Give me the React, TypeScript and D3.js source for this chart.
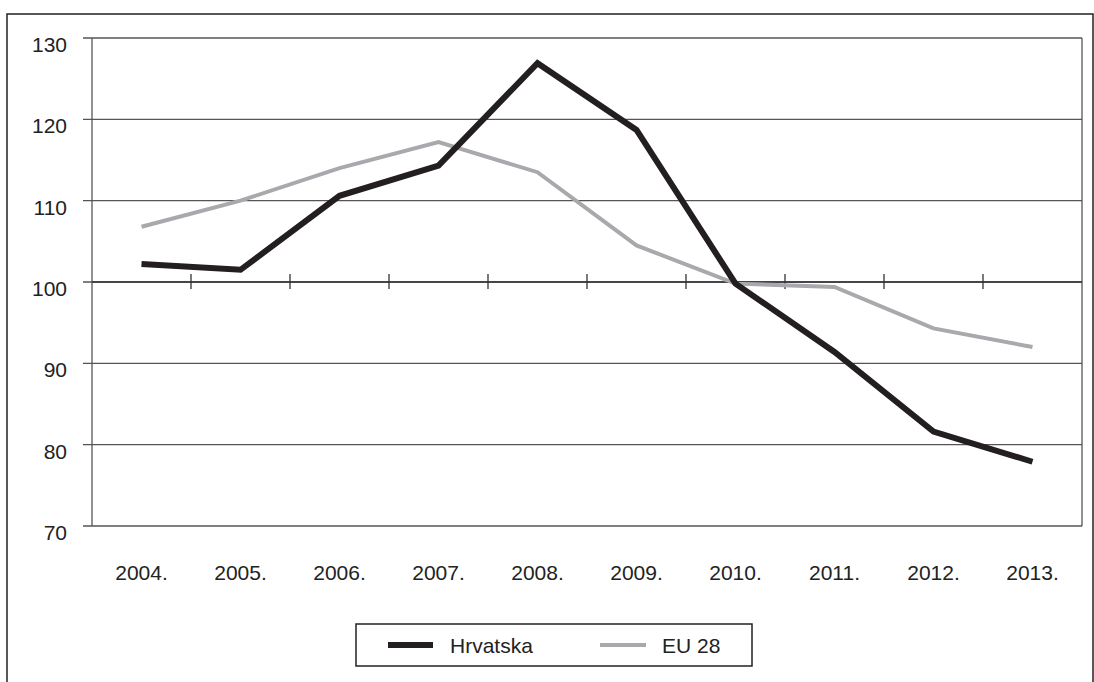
import React from "react";
import * as d3 from "d3";

const years = ["2004.", "2005.", "2006.", "2007.", "2008.", "2009.", "2010.", "2011.", "2012.", "2013."];
const hrvatska = [102.2, 101.5, 110.6, 114.3, 126.9, 118.7, 99.8, 91.4, 81.6, 77.9];
const eu28 = [106.8, 110.0, 114.0, 117.2, 113.5, 104.5, 99.8, 99.4, 94.3, 92.0];
const yTicks = [70, 80, 90, 100, 110, 120, 130];

export default function App() {
  const W = 1094, H = 682;
  const left = 92, right = 1082, top = 38, bottom = 526;
  const x = d3.scaleBand<string>().domain(years).range([left, right]);
  const y = d3.scaleLinear().domain([70, 130]).range([bottom, top]);
  const cx = (d: string) => (x(d) as number) + x.bandwidth() / 2;
  const line = d3.line<number>().x((_, i) => cx(years[i])).y((v) => y(v));
  const font = "'Liberation Sans', Arial, sans-serif";
  const gridCol = "#555";
  const y100 = y(100);
  const fs = 21;

  return (
    <svg width={W} height={H} style={{ position: "absolute", left: 0, top: 0, background: "#fff" }}>
      <rect x={7} y={14} width={1086} height={700} fill="#fff" stroke="#222" strokeWidth={1.5} />
      {yTicks.map((t) => (
        <g key={t}>
          <line x1={83} x2={right} y1={y(t)} y2={y(t)} stroke={gridCol} strokeWidth={1.3} />
          <text x={67} y={y(t) + 14} textAnchor="end" fontFamily={font} fontSize={fs} fill="#222">{t}</text>
        </g>
      ))}
      <line x1={left} x2={left} y1={top} y2={bottom} stroke={gridCol} strokeWidth={1.3} />
      <line x1={right} x2={right} y1={top} y2={bottom} stroke={gridCol} strokeWidth={1.3} />
      <line x1={left} x2={right} y1={y100} y2={y100} stroke="#333" strokeWidth={1.3} />
      {years.slice(1).map((yr) => (
        <line key={yr} x1={x(yr) as number} x2={x(yr) as number} y1={y100 - 8} y2={y100 + 7} stroke="#333" strokeWidth={1.3} />
      ))}
      {years.map((yr) => (
        <text key={yr} x={cx(yr)} y={580} textAnchor="middle" fontFamily={font} fontSize={fs} fill="#222">{yr}</text>
      ))}
      <path d={line(eu28) as string} fill="none" stroke="#a7a9ac" strokeWidth={4} strokeLinejoin="miter" />
      <path d={line(hrvatska) as string} fill="none" stroke="#231f20" strokeWidth={6} strokeLinejoin="miter" />
      <rect x={356} y={624} width={396} height={42} fill="#fff" stroke="#222" strokeWidth={1.5} />
      <line x1={388} x2={433} y1={645} y2={645} stroke="#231f20" strokeWidth={6} />
      <text x={450} y={653} fontFamily={font} fontSize={fs} fill="#222">Hrvatska</text>
      <line x1={600} x2={646} y1={645} y2={645} stroke="#a7a9ac" strokeWidth={4} />
      <text x={662} y={653} fontFamily={font} fontSize={fs} fill="#222">EU 28</text>
    </svg>
  );
}
